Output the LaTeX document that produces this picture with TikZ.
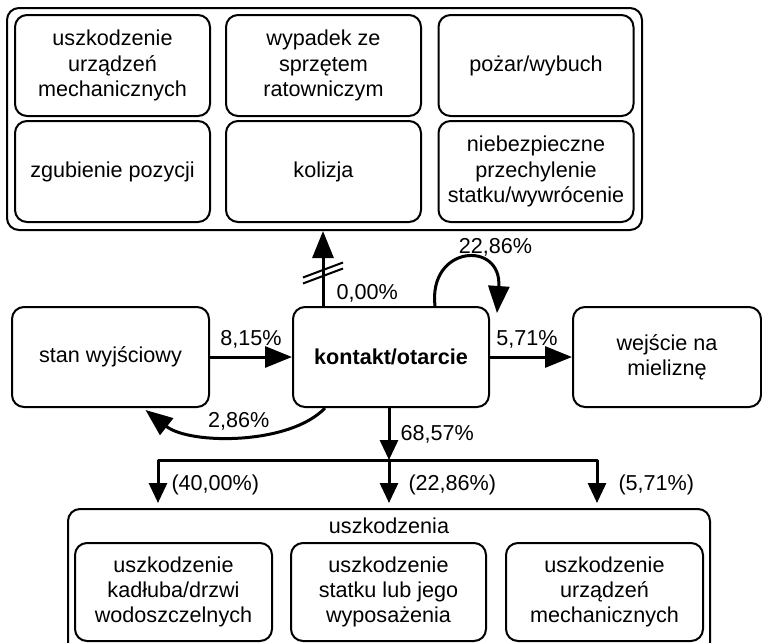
\documentclass[tikz,border=0pt]{standalone}
\usepackage{fontspec}
\setmainfont{Liberation Sans}
\usetikzlibrary{arrows.meta}
\tikzset{
  every picture/.style={line width=1pt, line join=round,
    >={Triangle[length=13.5pt,width=10.5pt]}},
  every node/.style={font=\fontsize{10.8}{12.7}\selectfont},
  % ramki i pola
  frame/.style={draw, rounded corners=6pt, line width=1pt},
  box/.style={draw, rounded corners=6pt, line width=1pt, align=center, inner sep=2pt,
    minimum width=97.5pt, minimum height=50.5pt},
  % strzałki
  flow/.style={line width=1.5pt, ->},
  flowsm/.style={line width=1.5pt, -{Triangle[length=10pt,width=9pt]}},
  % etykiety procentowe
  pct/.style={inner sep=1pt},
  pctdn/.style={pct, right=#1, yshift=-1.5pt},
}

\begin{document}
\begin{tikzpicture}[x=0.5pt, y=-0.5pt]
  \clip (0,0) rectangle (762,643);
  % zdarzenia nastepcze (gora)
  \node[frame, minimum width=317.5pt, minimum height=111pt] (zdarzenia) at (324.5,119) {};
  \node[box] (mech) at (112.5,65.5) {uszkodzenie\\urządzeń\\mechanicznych};
  \node[box] (ratown) at (323.5,65.5) {wypadek ze\\sprzętem\\ratowniczym};
  \node[box] (pozar) at (536,65.5) {pożar/wybuch};
  \node[box] (pozycja) at (112.5,171.5) {zgubienie pozycji};
  \node[box] (kolizja) at (323.5,171.5) {kolizja};
  \node[box] (przechyl) at (536,171.5) {niebezpieczne\\przechylenie\\statku/wywrócenie};
  % stany srodkowe
  \node[box, minimum width=98.5pt, minimum height=50pt] (stan) at (110.5,357) {stan wyjściowy};
  \node[box, minimum width=98pt, minimum height=50pt] (kontakt) at (391,357) {\bfseries kontakt/otarcie};
  \node[box, minimum width=94pt, minimum height=50pt] (mielizna) at (667,357) {wejście na\\mieliznę};
  % uszkodzenia (dol)
  \node[frame, minimum width=321pt, minimum height=78pt] (uszk) at (389,587) {};
  \node (uszktxt) at (389,526) {uszkodzenia};
  \node[box, minimum width=98.5pt, minimum height=49pt] (kadlub) at (173.5,592) {uszkodzenie\\kadłuba/drzwi\\wodoszczelnych};
  \node[box, minimum width=97.5pt, minimum height=49pt] (wypos) at (388.5,592) {uszkodzenie\\statku lub jego\\wyposażenia};
  \node[box, minimum width=98.5pt, minimum height=49pt] (mech2) at (604.5,592) {uszkodzenie\\urządzeń\\mechanicznych};
  % przejscia
  \coordinate (gora) at ([xshift=-34pt]kontakt.north);
  \draw[flow] (gora) -- node[pos=0.2, right=5pt, yshift=-1pt, pct] {0,00\%} (gora |- zdarzenia.south);
  \draw (303,277.5) -- (343,262.5);
  \draw (303,283.5) -- (343,268.5);
  \coordinate (petla1) at ([xshift=22pt]kontakt.north);
  \coordinate (petla2) at ([xshift=3.5pt,yshift=-3.5pt]kontakt.north east);
  \draw[flow] (petla1) .. controls (428,245) and (502,240) .. node[pos=0.5, anchor=south west, xshift=-5pt, yshift=-0.5pt, pct] {22,86\%} (petla2);
  \draw[flow] (stan) -- node[pct, above=2.5pt] {8,15\%} (kontakt);
  \draw[flow] (kontakt) -- node[pct, above=2.5pt, xshift=-2pt] {5,71\%} (mielizna);
  \coordinate (powrot1) at ([xshift=-33pt]kontakt.south);
  \coordinate (powrot2) at ([xshift=17.5pt,yshift=-1pt]stan.south);
  \draw[flow] (powrot1) .. controls (290,445) and (190,445) .. node[pct, above=1pt] {2,86\%} (powrot2);
  % rozgalezienie do uszkodzen
  \coordinate (rozdz) at (389,460);
  \coordinate (lewy) at (158,460);
  \coordinate (prawy) at (597,460);
  \draw[flowsm] (kontakt.south -| rozdz) -- node[pct, right=4pt] {68,57\%} (rozdz);
  \draw[flowsm] (rozdz) -- (lewy) -- node[pctdn=5pt] {(40,00\%)} ++(0,43);
  \draw[flowsm] (rozdz) -- node[pctdn=8pt] {(22,86\%)} ++(0,43);
  \draw[flowsm] (rozdz) -- (prawy) -- node[pctdn=9pt] {(5,71\%)} ++(0,43);
\end{tikzpicture}
\end{document}
